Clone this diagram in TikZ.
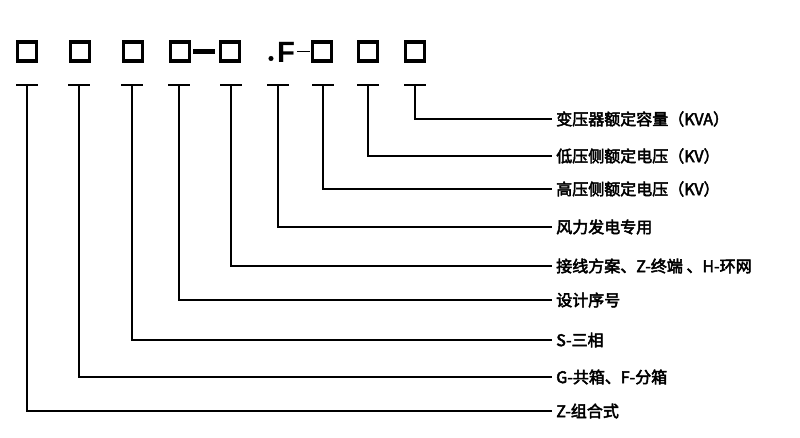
\documentclass[tikz,border=0pt]{standalone}
\usepackage{fontspec}
\setmainfont{Liberation Sans}
\newfontfamily\cjk[FakeBold=3]{Noto Sans CJK SC}
\begin{document}
\begin{tikzpicture}[x=0.75pt,y=-0.75pt,
  bx/.style={draw,line width=2.6pt,minimum width=14pt,minimum height=14.5pt,inner sep=0},
  lbl/.style={anchor=west,font=\cjk\fontsize{12}{14}\selectfont,inner sep=0},
  conn/.style={line width=0.8pt}]
\useasboundingbox (0,0) rectangle (800,437);
\foreach \n/\x in {b1/27,b2/80,b3/133,b4/180,b5/230,b7/322,b8/368,b9/415}
  \node[bx] (\n) at (\x,51.5) {};
\draw[line width=3.2pt] (193,51.5) -- (215,51.5);
\fill (271,58.5) circle (1.9pt);
\node[font=\bfseries\fontsize{22}{22}\selectfont,inner sep=0] (f) at (286,52) {F};
\draw[line width=1.1pt] (297,51.5) -- (310,51.5);
\foreach \n/\x/\y/\t in {
  t9/415/119/{变压器额定容量（KVA）},
  t8/368/156/{低压侧额定电压（KV）},
  t7/323/189/{高压侧额定电压（KV）},
  t6/278/227/{风力发电专用},
  t5/231/266/{接线方案、Z-终端 、H-环网},
  t4/179/300/{设计序号},
  t3/132/340/{S-三相},
  t2/79/377/{G-共箱、F-分箱},
  t1/27/411/{Z-组合式}}{
  \node[lbl] (\n) at (556,\y) {\t};
  \coordinate (c\n) at (\x,85);
  \draw[conn] ([xshift=-8pt]c\n) -- ([xshift=8pt]c\n);
  \draw[conn] (c\n) |- ([xshift=-3pt]\n.west);
}
\end{tikzpicture}
\end{document}
